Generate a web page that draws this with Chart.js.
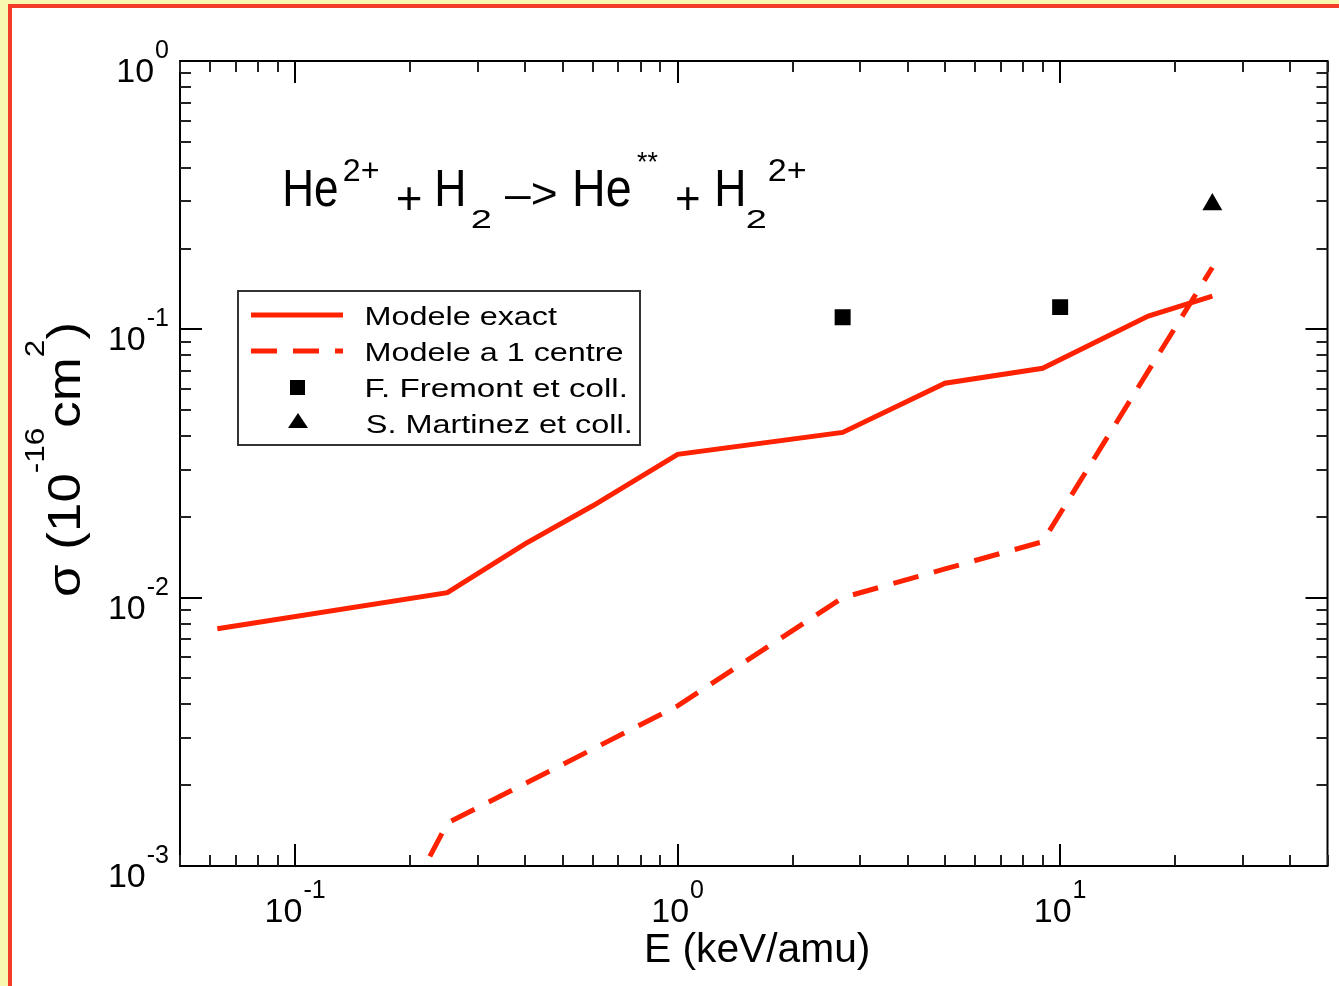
<!DOCTYPE html>
<html>
<head>
<meta charset="utf-8">
<title>He2+ + H2 -> He** + H2 2+</title>
<script src="https://cdn.jsdelivr.net/npm/chart.js@4.4.0/dist/chart.umd.min.js"></script>
<style>
  html, body { margin: 0; padding: 0; background: #fff; }
  #wrap { width: 1339px; height: 986px; }
</style>
</head>
<body>
<div id="wrap"><canvas id="chart" width="1339" height="986"></canvas></div>
<script>
// E in keV/amu, sigma in 1e-16 cm^2
const energyExact = [0.0626, 0.25, 0.4, 0.6, 1.0, 2.7, 5.0, 9.0, 17, 25];
const sigmaExact = [0.00766, 0.01044, 0.0159, 0.0220, 0.0342, 0.0413, 0.0630, 0.0716, 0.112, 0.133];

const energyOneCentre = [0.2, 0.25, 1.0, 2.7, 5.0, 9.0, 25];
const sigmaOneCentre = [0.00079, 0.001445, 0.00395, 0.0100, 0.0128, 0.01616, 0.170];

const energyFremont = [2.7, 10];
const sigmaFremont = [0.111, 0.121];

const energyMartinez = [25];
const sigmaMartinez = [0.292];

const seriesLabels = ["Modele exact", "Modele a 1 centre", "F. Fremont et coll.", "S. Martinez et coll."];
const xTickExponents = [-1, 0, 1];
const yTickExponents = [-3, -2, -1, 0];
const xRange = [0.05, 50];
const yRange = [0.001, 1];

const RED = "#ff2200";
const FONT = '"Liberation Sans", Arial, Helvetica, sans-serif';

const pts = (xs, ys) => xs.map((x, i) => ({ x: x, y: ys[i] }));

// draw a string so that its ink fills a given box
function fitBox(ctx, str, l, r, t, b, size) {
  ctx.font = size + "px " + FONT;
  ctx.textAlign = "left";
  ctx.textBaseline = "alphabetic";
  const m = ctx.measureText(str);
  const inkW = m.actualBoundingBoxLeft + m.actualBoundingBoxRight;
  const inkH = m.actualBoundingBoxAscent + m.actualBoundingBoxDescent;
  const sx = (r - l) / inkW;
  const sy = (b - t) / inkH;
  ctx.save();
  ctx.translate(l + m.actualBoundingBoxLeft * sx, t + m.actualBoundingBoxAscent * sy);
  ctx.scale(sx, sy);
  ctx.fillText(str, 0, 0);
  ctx.restore();
}

// horizontal fit only, height given by font size
function fitInk(ctx, str, l, r, baseline, size) {
  ctx.font = size + "px " + FONT;
  ctx.textAlign = "left";
  ctx.textBaseline = "alphabetic";
  const m = ctx.measureText(str);
  const sx = (r - l) / (m.actualBoundingBoxLeft + m.actualBoundingBoxRight);
  ctx.save();
  ctx.translate(l + m.actualBoundingBoxLeft * sx, baseline);
  ctx.scale(sx, 1);
  ctx.fillText(str, 0, 0);
  ctx.restore();
}

function drawPow(ctx, base, exp, x, baseline, align) {
  ctx.textAlign = "left";
  ctx.textBaseline = "alphabetic";
  ctx.font = "34px " + FONT;
  const wb = ctx.measureText(base).width;
  ctx.font = "25px " + FONT;
  const we = ctx.measureText(exp).width;
  const total = wb + 1 + we;
  const left = align === "center" ? x - total / 2 : x - total;
  ctx.font = "34px " + FONT;
  ctx.fillText(base, left, baseline);
  ctx.font = "25px " + FONT;
  ctx.fillText(exp, left + wb + 1, baseline - 24);
}

function logTicks(min, max) {
  const out = [];
  for (let e = Math.floor(Math.log10(min)); e <= Math.ceil(Math.log10(max)); e++) {
    for (let d = 1; d <= 9; d++) {
      const v = d * Math.pow(10, e);
      if (v >= min * 0.999 && v <= max * 1.001) out.push({ v: v, major: d === 1 });
    }
  }
  return out;
}

const backdrop = {
  id: "backdrop",
  beforeDraw(chart) {
    const ctx = chart.ctx;
    const W = chart.width, H = chart.height;
    ctx.save();
    ctx.fillStyle = "#f8f8b0";
    ctx.fillRect(0, 0, W, H);
    ctx.fillStyle = "#ffffff";
    ctx.fillRect(12, 8, W - 12, H - 8);
    ctx.fillStyle = "#f23c2a";
    ctx.fillRect(8, 4, W - 8, 4);
    ctx.fillRect(8, 4, 4, H - 4);
    ctx.restore();
  }
};

const decorations = {
  id: "decorations",
  afterDatasetsDraw(chart) {
    const ctx = chart.ctx;
    const a = chart.chartArea;
    const xs = chart.scales.x, ys = chart.scales.y;
    ctx.save();

    // frame
    ctx.strokeStyle = "#000";
    ctx.lineWidth = 2;
    ctx.strokeRect(a.left, a.top, a.right - a.left, a.bottom - a.top);

    // inward ticks on all four sides
    ctx.lineWidth = 2;
    logTicks(xRange[0], xRange[1]).forEach(t => {
      const px = Math.round(xs.getPixelForValue(t.v));
      const len = t.major ? 22 : 11;
      ctx.strokeStyle = t.major ? "#000" : "#222";
      ctx.beginPath();
      ctx.moveTo(px, a.bottom); ctx.lineTo(px, a.bottom - len);
      ctx.moveTo(px, a.top); ctx.lineTo(px, a.top + len);
      ctx.stroke();
    });
    logTicks(yRange[0], yRange[1]).forEach(t => {
      const py = Math.round(ys.getPixelForValue(t.v));
      const len = t.major ? 22 : 11;
      ctx.strokeStyle = t.major ? "#000" : "#222";
      ctx.beginPath();
      ctx.moveTo(a.left, py); ctx.lineTo(a.left + len, py);
      ctx.moveTo(a.right, py); ctx.lineTo(a.right - len, py);
      ctx.stroke();
    });

    // tick labels
    ctx.fillStyle = "#000";
    xTickExponents.forEach(e => {
      drawPow(ctx, "10", String(e), xs.getPixelForValue(Math.pow(10, e)), a.bottom + 56, "center");
    });
    yTickExponents.forEach(e => {
      drawPow(ctx, "10", String(e), a.left - 11, ys.getPixelForValue(Math.pow(10, e)) + 21, "right");
    });

    // x axis title
    fitInk(ctx, "E (keV/amu)", 647, 868, 962, 40);

    // y axis title, rotated
    const pieces = [
      { t: "\u03c3", sup: false }, { t: " (10", sup: false }, { t: "-16", sup: true },
      { t: "cm", sup: false }, { t: "2", sup: true }, { t: ")", sup: false }
    ];
    let total = 0;
    pieces.forEach(p => {
      ctx.font = (p.sup ? 28 : 47) + "px " + FONT;
      p.w = ctx.measureText(p.t).width;
      total += p.w;
    });
    ctx.save();
    ctx.translate(80, 597);
    ctx.rotate(-Math.PI / 2);
    ctx.scale(275 / total, 1);
    ctx.textAlign = "left";
    ctx.textBaseline = "alphabetic";
    let cx = 0;
    pieces.forEach(p => {
      ctx.font = (p.sup ? 28 : 47) + "px " + FONT;
      ctx.fillText(p.t, cx, p.sup ? -36 : 0);
      cx += p.w;
    });
    ctx.restore();

    // reaction label
    fitBox(ctx, "He", 285, 337, 170, 206, 48);
    fitBox(ctx, "2+", 344, 378, 160, 181, 28);
    fitBox(ctx, "+", 397, 421, 186, 209, 40);
    fitBox(ctx, "H", 437, 463, 170, 206, 48);
    fitBox(ctx, "2", 472, 491, 211, 228, 28);
    fitBox(ctx, "\u2013>", 505, 556, 183, 205, 40);
    fitBox(ctx, "He", 575, 630, 170, 206, 48);
    fitBox(ctx, "**", 637, 658, 152, 162, 28);
    fitBox(ctx, "+", 676, 699, 186, 209, 40);
    fitBox(ctx, "H", 717, 743, 170, 206, 48);
    fitBox(ctx, "2", 747, 766, 211, 228, 28);
    fitBox(ctx, "2+", 769, 805, 160, 181, 28);

    // legend
    const ds = chart.data.datasets;
    ctx.fillStyle = "#fff";
    ctx.fillRect(238, 291, 402, 154);
    ctx.strokeStyle = "#333";
    ctx.lineWidth = 2;
    ctx.strokeRect(238, 291, 402, 154);

    const rowY = [315, 351, 387, 423];
    const textRight = [558, 623, 625, 630];
    [0, 1].forEach(i => {
      ctx.strokeStyle = ds[i].borderColor;
      ctx.lineWidth = ds[i].borderWidth;
      ctx.setLineDash(ds[i].borderDash || []);
      ctx.beginPath();
      ctx.moveTo(251, rowY[i]);
      ctx.lineTo(343, rowY[i]);
      ctx.stroke();
    });
    ctx.setLineDash([]);
    ctx.fillStyle = "#000";
    ctx.fillRect(290, 380, 15, 15);
    ctx.beginPath();
    ctx.moveTo(298, 413); ctx.lineTo(308, 428); ctx.lineTo(288, 428);
    ctx.closePath();
    ctx.fill();
    seriesLabels.forEach((s, i) => {
      fitInk(ctx, s, 367, textRight[i], rowY[i] + 10, 26);
    });

    ctx.restore();
  }
};

new Chart(document.getElementById("chart"), {
  type: "scatter",
  data: {
    datasets: [
      {
        label: seriesLabels[0],
        data: pts(energyExact, sigmaExact),
        showLine: true,
        borderColor: RED,
        borderWidth: 5,
        pointRadius: 0,
        clip: 0
      },
      {
        label: seriesLabels[1],
        data: pts(energyOneCentre, sigmaOneCentre),
        showLine: true,
        borderColor: RED,
        borderWidth: 5,
        borderDash: [26, 16],
        pointRadius: 0,
        clip: 0
      },
      {
        label: seriesLabels[2],
        data: pts(energyFremont, sigmaFremont),
        showLine: false,
        pointStyle: "rect",
        pointRadius: 11.3,
        backgroundColor: "#000",
        borderWidth: 0
      },
      {
        label: seriesLabels[3],
        data: pts(energyMartinez, sigmaMartinez),
        showLine: false,
        pointStyle: "triangle",
        pointRadius: 11.5,
        backgroundColor: "#000",
        borderWidth: 0
      }
    ]
  },
  options: {
    responsive: false,
    animation: false,
    devicePixelRatio: 1,
    events: [],
    layout: { padding: { left: 180, top: 61, right: 7, bottom: 120 } },
    scales: {
      x: { type: "logarithmic", min: xRange[0], max: xRange[1], display: false },
      y: { type: "logarithmic", min: yRange[0], max: yRange[1], display: false }
    },
    plugins: {
      legend: { display: false },
      tooltip: { enabled: false }
    }
  },
  plugins: [backdrop, decorations]
});
</script>
</body>
</html>
